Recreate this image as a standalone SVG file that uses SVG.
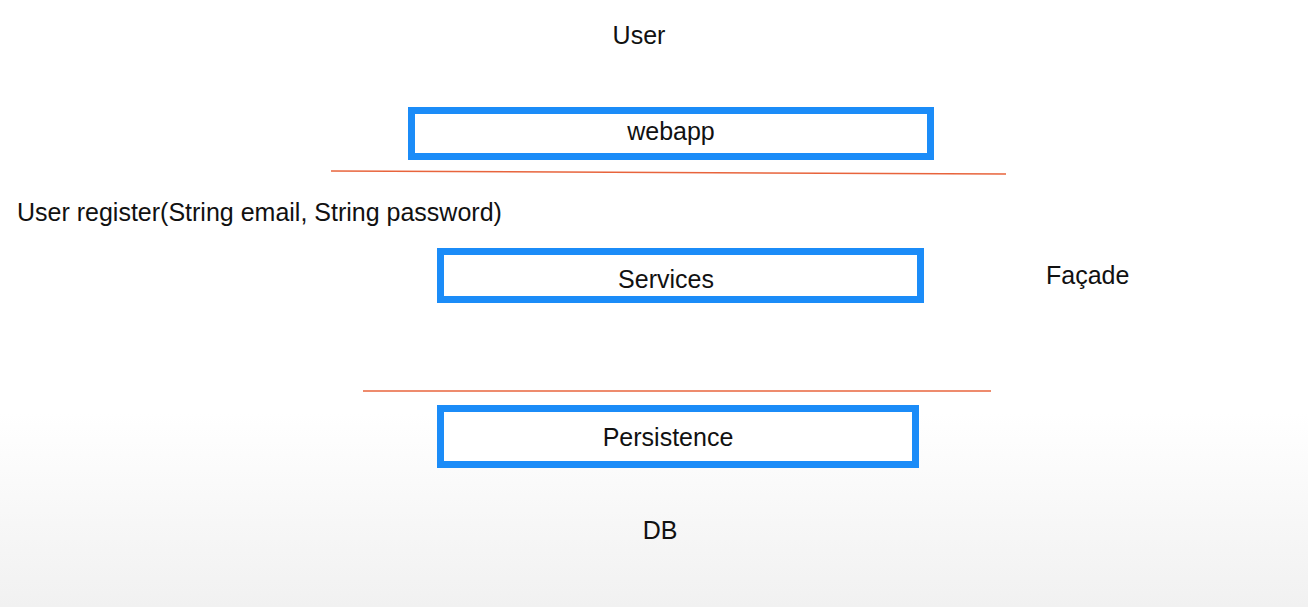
<svg xmlns="http://www.w3.org/2000/svg" width="1308" height="607" viewBox="0 0 1308 607">
<defs>
<linearGradient id="bg" x1="0" y1="0" x2="0" y2="1">
<stop offset="0" stop-color="#ffffff"/>
<stop offset="0.68" stop-color="#ffffff"/>
<stop offset="1" stop-color="#f1f1f1"/>
</linearGradient>
<style>
.box{fill:#ffffff;stroke:#1b8cf8;stroke-width:7}
.sep{stroke:#e8643c;stroke-width:1.5;fill:none}
.t{font-family:"Liberation Sans",Arial,sans-serif;font-size:25px;fill:#111111}
.c{text-anchor:middle}
</style>
</defs>
<rect x="0" y="0" width="1308" height="607" fill="url(#bg)"/>
<g id="connectors">
<line class="sep" x1="331" y1="171" x2="1006" y2="174"/>
<line class="sep" x1="363" y1="391" x2="991" y2="391"/>
</g>
<g id="user"><text class="t c" x="639" y="44">User</text></g>
<g id="webapp">
<rect class="box" x="411.5" y="110.5" width="519" height="46"/>
<text class="t c" x="671" y="140">webapp</text>
</g>
<g id="signature"><text class="t" x="17" y="221">User register(String email, String password)</text></g>
<g id="services">
<rect class="box" x="440.5" y="251.5" width="480" height="48"/>
<text class="t c" x="666" y="288">Services</text>
</g>
<g id="facade"><text class="t" x="1046" y="284">Façade</text></g>
<g id="persistence">
<rect class="box" x="440.5" y="408.5" width="475" height="56"/>
<text class="t c" x="668" y="446">Persistence</text>
</g>
<g id="db"><text class="t c" x="660" y="539">DB</text></g>
</svg>
